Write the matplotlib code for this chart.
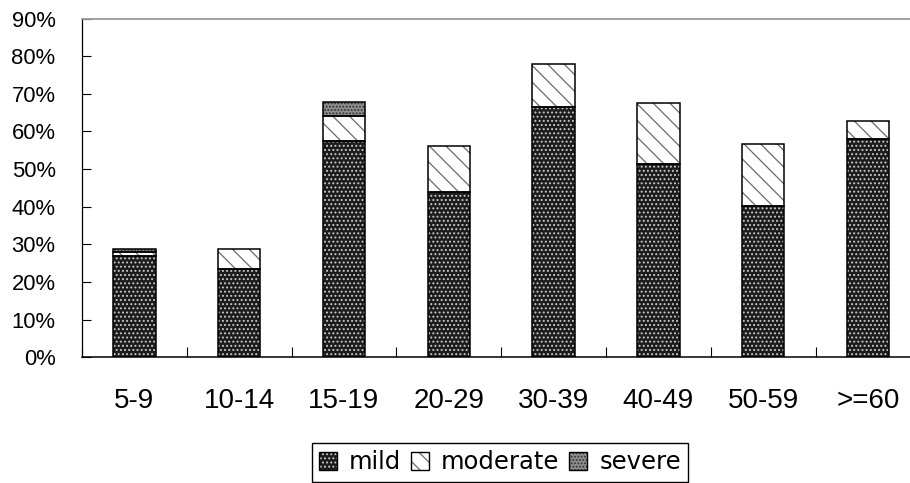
import matplotlib
matplotlib.use("Agg")
import matplotlib.pyplot as plt
from matplotlib.patches import Patch
from matplotlib.legend_handler import HandlerTuple
import numpy as np

categories = ['5-9', '10-14', '15-19', '20-29', '30-39', '40-49', '50-59', '>=60']
mild = [27.0, 23.4, 57.5, 43.9, 66.5, 51.4, 40.2, 57.9]
moderate = [0.9, 5.3, 6.6, 12.3, 11.5, 16.1, 16.5, 4.8]
severe = [0.85, 0.0, 3.8, 0.0, 0.0, 0.0, 0.0, 0.0]
series_names = ['mild', 'moderate', 'severe']
yticks = list(range(0, 91, 10))

plt.rcParams['hatch.linewidth'] = 0.9

styles = {
    'mild': dict(face='#1c1c1c', hatch='....', hcol='#c8c8c8'),
    'moderate': dict(face='white', hatch='\\\\', hcol='#6a6a6a'),
    'severe': dict(face='#8e8e8e', hatch='.....', hcol='#303030'),
}

fig = plt.figure(figsize=(9.1, 4.83), dpi=100)
ax = fig.add_axes([0.0901, 0.2602, 0.9213, 0.7014])

x = np.arange(len(categories))
width = 0.405
bottom = np.zeros(len(categories))
for name, vals in zip(series_names, [mild, moderate, severe]):
    vals = np.array(vals)
    st = styles[name]
    mask = vals > 0
    ax.bar(x[mask], vals[mask], width, bottom=bottom[mask], color=st['face'],
           hatch=st['hatch'], edgecolor=st['hcol'], linewidth=0, zorder=2)
    ax.bar(x[mask], vals[mask], width, bottom=bottom[mask], fill=False,
           edgecolor='black', linewidth=1.1, zorder=3)
    bottom = bottom + vals

ax.set_xlim(-0.5, 7.5)
ax.set_ylim(0, 90)
ax.set_yticks(yticks)
ax.set_yticklabels([f'{v}%' for v in yticks], fontfamily='Liberation Sans', fontsize=15.8)
ax.tick_params(axis='y', direction='in', length=6.5, width=0.8, pad=19)
ax.set_xticks(x)
ax.set_xticklabels(categories, fontfamily='Liberation Sans', fontsize=20)
ax.tick_params(axis='x', which='major', length=0, pad=22)
ax.set_xticks(np.arange(-0.5, 8, 1), minor=True)
ax.tick_params(axis='x', which='minor', direction='in', length=7, width=0.8)

ax.spines['right'].set_visible(False)
ax.spines['top'].set_color('#9a9a9a')
ax.spines['top'].set_linewidth(1.3)
ax.spines['left'].set_linewidth(0.9)
ax.spines['bottom'].set_linewidth(1.1)

handles = []
for name in series_names:
    st = styles[name]
    h1 = Patch(facecolor=st['face'], hatch=st['hatch'], edgecolor=st['hcol'], linewidth=0)
    h2 = Patch(fill=False, edgecolor='black', linewidth=1.0)
    handles.append((h1, h2))

leg = fig.legend(handles, series_names, loc='upper center',
                 bbox_to_anchor=(500 / 910, 1 - 443 / 483), ncol=3,
                 handler_map={tuple: HandlerTuple(ndivide=1)},
                 prop={'family': 'DejaVu Sans', 'size': 17.5},
                 handlelength=0.74, handleheight=0.74, handletextpad=0.5,
                 columnspacing=0.4, borderpad=0.3, borderaxespad=0,
                 fancybox=False, framealpha=1)
leg.get_frame().set_edgecolor('black')
leg.get_frame().set_linewidth(1.0)

fig.savefig('out.png', dpi=100)
